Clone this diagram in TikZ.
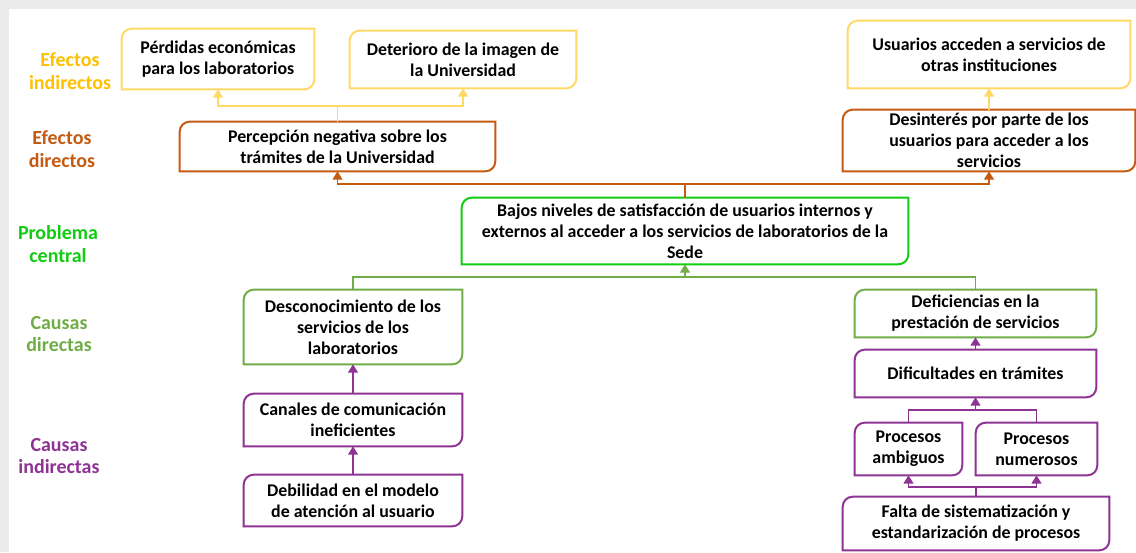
\documentclass[tikz,border=0pt]{standalone}
\usepackage{fontspec}
\setmainfont{Carlito}
\usetikzlibrary{arrows.meta, positioning, calc}
\definecolor{amarillo}{HTML}{FFD966}
\definecolor{amarilloT}{HTML}{FFC000}
\definecolor{naranja}{HTML}{C55A11}
\definecolor{verde}{HTML}{11CC11}
\definecolor{verdeC}{HTML}{70AD47}
\definecolor{morado}{HTML}{8E3393}
\definecolor{fondo}{HTML}{EBEBEB}
\newcommand{\cajafont}{\fontsize{12.7}{15}\selectfont\bfseries}
\newcommand{\rotulofont}{\fontsize{14.2}{16}\selectfont\bfseries}
\tikzset{
  caja/.style 2 args={inner sep=0pt, align=center, text=black,
                      minimum width=#1*0.025cm, minimum height=#2*0.025cm,
                      font=\cajafont},
  rotulo/.style={align=center, inner sep=0pt, font=\rotulofont},
  flecha/.style={-{Triangle[length=6pt, width=7pt]}, line width=1.3pt},
  linea/.style={line width=1.3pt},
}
% marco con esquinas redondeadas en diagonal
\newcommand{\marco}[2]{%
  \draw[#2, line width=1.4pt] (#1.west) [rounded corners=7pt] |- (#1.north)
    [sharp corners] -| (#1.east) [rounded corners=7pt] |- (#1.south)
    [sharp corners] -| (#1.west) -- cycle;
}
\begin{document}
\begin{tikzpicture}[x=0.025cm, y=-0.025cm]
  %% Fondo
  \useasboundingbox (0,0) rectangle (1136,552);
  \fill[fondo] (0,0) rectangle (1136,552);
  \fill[white] (9,9) rectangle (1136,552);

  %% Rotulos de nivel
  \node[rotulo, amarilloT] (rEfInd)  at (70,71)  {Efectos\\indirectos};
  \node[rotulo, naranja]   (rEfDir)  at (62,149) {Efectos\\directos};
  \node[rotulo, verde]     (rProb)   at (58,244) {Problema\\central};
  \node[rotulo, verdeC]    (rCauDir) at (59,334) {Causas\\directas};
  \node[rotulo, morado]    (rCauInd) at (59,456) {Causas\\indirectas};

  %% Efectos
  \node[caja={192}{60}] (perdidas)   at (218,59)    {Pérdidas económicas\\para los laboratorios};
  \node[caja={226}{57}] (deterioro)  at (463,59.5)  {Deterioro de la imagen de\\la Universidad};
  \node[caja={282}{67}] (usuarios)   at (989,54.5)  {Usuarios acceden a servicios de\\otras instituciones};
  \node[caja={315}{49}] (percepcion) at (337.5,146.5) {Percepción negativa sobre los\\trámites de la Universidad};
  \node[caja={292}{61}] (desinteres) at (989,140.5) {Desinterés por parte de los\\usuarios para acceder a los\\servicios};

  %% Problema central
  \node[caja={446}{66}] (problema) at (685,231)
    {Bajos niveles de satisfacción de usuarios internos y\\externos al acceder a los servicios de laboratorios de la\\Sede};

  %% Causas
  \node[caja={218}{74}] (desconoc)     at (353,327)     {Desconocimiento de los\\servicios de los\\laboratorios};
  \node[caja={241}{47}] (deficiencias) at (975.5,313.5) {Deficiencias en la\\prestación de servicios};
  \node[caja={241}{47}] (dificultades) at (975.5,373.5) {Dificultades en trámites};
  \node[caja={218}{52}] (canales)      at (353,420)     {Canales de comunicación\\ineficientes};
  \node[caja={218}{51}] (debilidad)    at (353,500.5)   {Debilidad en el modelo\\de atención al usuario};
  \node[caja={107}{52}] (ambiguos)     at (908.5,449)   {Procesos\\ambiguos};
  \node[caja={121}{52}] (numerosos)    at (1036.5,449)  {Procesos\\numerosos};
  \node[caja={266}{53}] (falta)        at (976,523.5)   {Falta de sistematización y\\estandarización de procesos};

  \foreach \n/\c in {perdidas/amarillo, deterioro/amarillo, usuarios/amarillo,
                     percepcion/naranja, desinteres/naranja, problema/verde,
                     desconoc/verdeC, deficiencias/verdeC,
                     dificultades/morado, canales/morado, debilidad/morado,
                     ambiguos/morado, numerosos/morado, falta/morado}{
    \marco{\n}{\c}
  }

  %% Conectores
  \coordinate (jAm) at (337.5,106);
  \draw[linea, amarillo] (percepcion.north) -- (jAm);
  \draw[flecha, amarillo] (jAm) -| (perdidas.south);
  \draw[flecha, amarillo] (jAm) -| (deterioro.south);
  \draw[flecha, amarillo] (desinteres.north) -- (usuarios.south);

  \coordinate (jNa) at (685,184);
  \draw[linea, naranja] (problema.north) -- (jNa);
  \draw[flecha, naranja] (jNa) -| (percepcion.south);
  \draw[flecha, naranja] (jNa) -| (desinteres.south);

  \coordinate (jVe) at (685,277);
  \draw[linea, verdeC] (desconoc.north) |- (jVe) -| (deficiencias.north);
  \draw[flecha, verdeC] (jVe) -- (problema.south);

  \draw[flecha, morado] (debilidad.north) -- (canales.south);
  \draw[flecha, morado] (canales.north) -- (desconoc.south);
  \draw[flecha, morado] (dificultades.north) -- (deficiencias.south);
  \coordinate (jMo1) at (975.5,410);
  \draw[linea, morado] (ambiguos.north) |- (jMo1) -| (numerosos.north);
  \draw[flecha, morado] (jMo1) -- (dificultades.south);
  \coordinate (jMo2) at (976,487);
  \draw[linea, morado] (falta.north) -- (jMo2);
  \draw[flecha, morado] (jMo2) -| (ambiguos.south);
  \draw[flecha, morado] (jMo2) -| (numerosos.south);
\end{tikzpicture}
\end{document}
